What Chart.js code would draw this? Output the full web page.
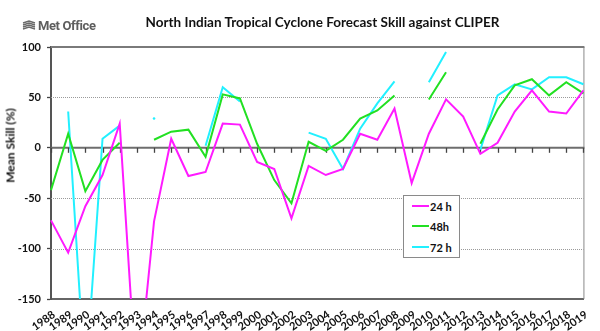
<!DOCTYPE html>
<html>
<head>
<meta charset="utf-8">
<script src="https://cdn.jsdelivr.net/npm/chart.js@4/dist/chart.umd.min.js"></script>
<style>
  html, body { margin: 0; padding: 0; background: #fff; }
  #wrap { position: relative; width: 600px; height: 331px; overflow: hidden; }
  #chart { position: absolute; left: 0; top: 0; }
  #logo { position: absolute; left: 22px; top: 16px; height: 18px; display: flex; align-items: center;
          font-family: "Liberation Sans Narrow", "Roboto", sans-serif; font-size: 13px; font-weight: bold; color: #5e5e5e; letter-spacing: -0.4px; }
  #logo svg { margin-right: 2px; }
  #title { position: absolute; left: 51px; width: 543px; top: 14px; text-align: center;
           font-family: "Lato", sans-serif; font-weight: bold; font-size: 13.5px; color: #111; }
  #ytitle { position: absolute; left: -50px; top: 138px; width: 120px; text-align: center;
            transform: rotate(-90deg); transform-origin: 50% 50%;
            font-family: "Lato", sans-serif; font-weight: bold; font-size: 12px; color: #111; }
  #legend { position: absolute; left: 403px; top: 195px; width: 57px; height: 63px;
            border: 1px solid #8a8a8a; background: #fff; box-sizing: border-box; }
  .row { position: absolute; left: 8px; height: 14px; display: flex; align-items: center;
         font-family: "Lato", sans-serif; font-weight: bold; font-size: 11px; color: #111; }
  .row span.swatch { display: inline-block; width: 17px; height: 2px; margin-right: 1px; }
</style>
</head>
<body>
<div id="wrap">
  <canvas id="chart" width="600" height="331"></canvas>
  <div id="logo">
    <svg width="14" height="10" viewBox="0 0 14 10">
      <g stroke="#6a6a6a" stroke-width="1.4" fill="none">
        <path d="M1 3 L7 1 L13 3"/>
        <path d="M1 5 L7 3 L13 5"/>
        <path d="M1 7 L7 5 L13 7"/>
        <path d="M1 9 L7 7 L13 9"/>
      </g>
    </svg>Met Office</div>
  <div id="title">North Indian Tropical Cyclone Forecast Skill against CLIPER</div>
  <div id="ytitle">Mean Skill (%)</div>
  <div id="legend"></div>
</div>
<script>
// Years of the verification record
const years = ["1988","1989","1990","1991","1992","1993","1994","1995","1996","1997",
               "1998","1999","2000","2001","2002","2003","2004","2005","2006","2007",
               "2008","2009","2010","2011","2012","2013","2014","2015","2016","2017",
               "2018","2019"];

// Mean skill (%) relative to CLIPER, by forecast lead time (null = no data)
const skill24h = [-72, -104, -58, -27, 24, -243, -73, 9, -28, -24,
                  24, 23, -14, -21, -70, -18, -27, -21, 14, 8,
                  39, -35, 14, 48, 31, -6, 5, 36, 57, 36,
                  34, 57];
const skill48h = [-42, 14, -43, -12, 5, null, 8, 16, 18, -9,
                  53, 49, 4, -32, -55, 6, -3, 8, 29, 37,
                  52, null, 48, 75, null, 4, 38, 62, 68, 52,
                  65, 54];
const skill72h = [null, 36, -235, 9, 22, null, 29, null, null, 2,
                  60, 46, null, null, null, 15, 9, -21, 19, 44,
                  66, null, 65, 95, null, -2, 52, 63, 58, 70,
                  70, 63];

const seriesNames = ["24 h", "48h", "72 h"];
const seriesColors = ["#ff1aff", "#22e022", "#22f0ff"];

// y-axis range and tick step
const yMin = -150, yMax = 100, yStep = 50;
const dottedLevels = [50, -50, -100];

// a lone value between gaps gets a small dot so it stays visible
function loneDot(ctx) {
  const d = ctx.dataset.data, i = ctx.dataIndex;
  if (d[i] == null) return 0;
  const prev = i > 0 ? d[i - 1] : null;
  const next = i < d.length - 1 ? d[i + 1] : null;
  return (prev == null && next == null) ? 1.3 : 0;
}

// frame, reference lines and zero axis with its year ticks
const framePlugin = {
  id: 'frame',
  beforeDatasetsDraw(chart) {
    const { ctx, chartArea: a, scales: { x, y } } = chart;
    ctx.save();
    // dotted gridlines
    ctx.strokeStyle = '#9a9a9a';
    ctx.lineWidth = 1;
    ctx.setLineDash([1, 1]);
    dottedLevels.forEach(v => {
      const py = Math.round(y.getPixelForValue(v)) + 0.5;
      ctx.beginPath(); ctx.moveTo(a.left, py); ctx.lineTo(a.right, py); ctx.stroke();
    });
    ctx.setLineDash([]);
    // right edge
    ctx.strokeStyle = '#8a8a8a';
    ctx.beginPath(); ctx.moveTo(a.right + 0.5, a.top); ctx.lineTo(a.right + 0.5, a.bottom); ctx.stroke();
    // top line at 100
    ctx.strokeStyle = '#7a7a7a';
    ctx.lineWidth = 2;
    const ty = y.getPixelForValue(yMax);
    ctx.beginPath(); ctx.moveTo(a.left, ty); ctx.lineTo(a.right + 1, ty); ctx.stroke();
    // zero line
    ctx.strokeStyle = '#6e6e6e';
    const zy = y.getPixelForValue(0);
    ctx.beginPath(); ctx.moveTo(a.left, zy); ctx.lineTo(a.right + 1, zy); ctx.stroke();
    // year ticks under the zero line
    ctx.lineWidth = 1.3;
    ctx.strokeStyle = '#444';
    years.forEach((yr, i) => {
      const px = Math.round(x.getPixelForValue(i)) + 0.5;
      ctx.beginPath(); ctx.moveTo(px, zy); ctx.lineTo(px, zy + 5); ctx.stroke();
    });
    ctx.restore();
  }
};

const datasets = [skill24h, skill48h, skill72h].map((vals, k) => ({
  label: seriesNames[k],
  data: vals,
  borderColor: seriesColors[k],
  backgroundColor: seriesColors[k],
  borderWidth: 2,
  pointRadius: loneDot,
  pointHoverRadius: 0,
  pointBorderWidth: 0,
  spanGaps: false,
  tension: 0,
  fill: false
}));

new Chart(document.getElementById('chart'), {
  type: 'line',
  data: { labels: years, datasets },
  plugins: [framePlugin],
  options: {
    responsive: false,
    animation: false,
    events: [],
    layout: { padding: { top: 47, right: 5, left: 0, bottom: 0 } },
    plugins: { legend: { display: false }, tooltip: { enabled: false }, title: { display: false } },
    scales: {
      x: {
        type: 'category',
        offset: false,
        grid: { display: false, drawTicks: false },
        border: { display: true, color: '#666', width: 2 },
        ticks: {
          autoSkip: false, maxRotation: 35, minRotation: 35, padding: 9, labelOffset: 3,
          color: '#111', font: { family: 'Lato', weight: 'bold', size: 11 }
        },
        afterFit(scale) { scale.height = 32; }
      },
      y: {
        min: yMin, max: yMax,
        grid: { drawOnChartArea: false, drawTicks: true, tickLength: 4, tickColor: '#444', tickWidth: 1.3 },
        border: { display: true, color: '#555', width: 2 },
        ticks: {
          stepSize: yStep, padding: 6,
          color: '#111', font: { family: 'Lato', weight: 'bold', size: 11 }
        },
        afterFit(scale) { scale.width = 51; }
      }
    }
  }
});

// legend box built from the series names and colours
const legend = document.getElementById('legend');
const rowTops = [3, 23, 44];
seriesNames.forEach((name, k) => {
  const row = document.createElement('div');
  row.className = 'row';
  row.style.top = rowTops[k] + 'px';
  const sw = document.createElement('span');
  sw.className = 'swatch';
  sw.style.background = seriesColors[k];
  row.appendChild(sw);
  row.appendChild(document.createTextNode(name));
  legend.appendChild(row);
});
</script>
</body>
</html>
